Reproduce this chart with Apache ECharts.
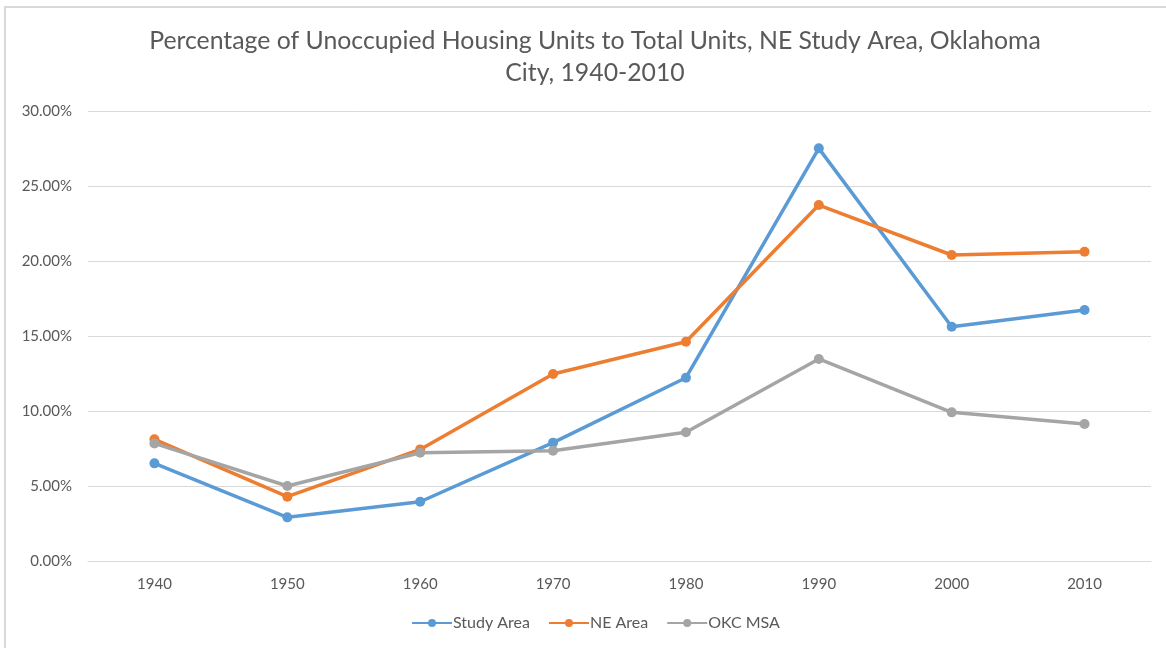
<!DOCTYPE html>
<html>
<head>
<meta charset="utf-8">
<script src="https://cdn.jsdelivr.net/npm/echarts@6/dist/echarts.min.js"></script>
<style>
  html, body { margin: 0; padding: 0; background: #fff; }
  #frame { position: absolute; left: 4px; top: 6px; width: 1170px; height: 650px; border-left: 2px solid #d9d9d9; border-top: 2px solid #d9d9d9; }
  #chart { position: absolute; left: 0; top: 0; width: 1166px; height: 648px; }
</style>
</head>
<body>
<div id="frame"></div>
<div id="chart"></div>
<script>
// decades on the x axis
const years = ['1940', '1950', '1960', '1970', '1980', '1990', '2000', '2010'];
// percent unoccupied
const studyArea = [6.51, 2.91, 3.95, 7.89, 12.22, 27.51, 15.62, 16.73];
const neArea = [8.11, 4.29, 7.44, 12.47, 14.62, 23.73, 20.40, 20.62];
const okcMsa = [7.84, 5.00, 7.22, 7.35, 8.58, 13.47, 9.91, 9.13];

const myChart = echarts.init(document.getElementById('chart'));
const font = 'Lato, "Open Sans", sans-serif';

function lineSeries(name, data, color) {
  return {
    name: name,
    type: 'line',
    data: data,
    symbol: 'circle',
    symbolSize: 10,
    itemStyle: { color: color },
    lineStyle: { color: color, width: 3.5 },
    emphasis: { disabled: true }
  };
}

myChart.setOption({
  animation: false,
  textStyle: { fontFamily: font },
  title: {
    text: 'Percentage of Unoccupied Housing Units to Total Units, NE Study Area, Oklahoma\nCity, 1940-2010',
    left: 590,
    top: 20,
    textAlign: 'center',
    textStyle: { fontFamily: font, fontSize: 24.8, fontWeight: 'normal', color: '#595959', lineHeight: 32 }
  },
  legend: {
    bottom: 12,
    left: 406,
    itemWidth: 40,
    itemHeight: 10,
    itemGap: 18,
    textStyle: { fontFamily: font, fontSize: 16, color: '#595959', padding: [0, 0, 0, -4] },
    data: ['Study Area', 'NE Area', 'OKC MSA']
  },
  grid: { left: 88, right: 15, top: 111, bottom: 87 },
  xAxis: {
    type: 'category',
    data: years,
    boundaryGap: true,
    axisLine: { show: true, lineStyle: { color: '#d9d9d9' } },
    axisTick: { show: false },
    axisLabel: { color: '#595959', fontSize: 15, margin: 16 }
  },
  yAxis: {
    type: 'value',
    min: 0,
    max: 30,
    interval: 5,
    axisLine: { show: false },
    axisTick: { show: false },
    splitLine: { lineStyle: { color: '#d9d9d9' } },
    axisLabel: { color: '#595959', fontSize: 15, margin: 16, formatter: v => v.toFixed(2) + '%' }
  },
  series: [
    lineSeries('Study Area', studyArea, '#5B9BD5'),
    lineSeries('NE Area', neArea, '#ED7D31'),
    lineSeries('OKC MSA', okcMsa, '#A5A5A5')
  ]
});
</script>
</body>
</html>
